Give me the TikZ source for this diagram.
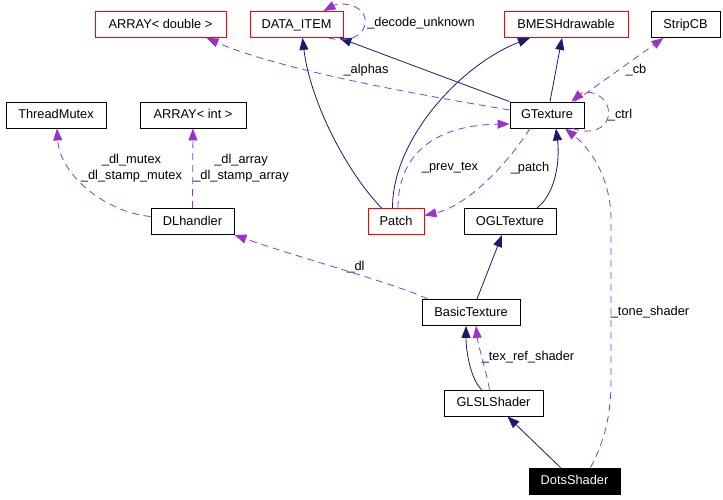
\documentclass[tikz,border=0pt]{standalone}
\usepackage{fontspec}
\setmainfont{Liberation Sans}
\usetikzlibrary{arrows.meta,calc}
\definecolor{navy}{RGB}{25,25,112}
\definecolor{purp}{RGB}{153,50,204}
\begin{document}
\begin{tikzpicture}[x=1pt,y=-1pt,
  txt/.style={font=\fontsize{12.8}{16}\selectfont},
  box/.style={txt,draw=black,line width=0.9pt,minimum height=26pt,inner sep=0pt,text height=9.5pt,text depth=2.5pt},
  redbox/.style={box,draw=red},
  inh/.style={navy,line width=0.8pt,-{Triangle[length=12pt,width=9pt]}},
  dep/.style={purp,line width=0.8pt,dash pattern=on 7pt off 5pt,-{Triangle[length=12pt,width=9pt]}},
  lbl/.style={txt,inner sep=0pt,align=center}]
\useasboundingbox (0,0) rectangle (723,499);
% nodes
\node[redbox,minimum width=131pt] (arrd) at (160.5,24.5) {ARRAY< double >};
\node[redbox,minimum width=93pt] (data) at (296.5,24.5) {DATA\_ITEM};
\node[redbox,minimum width=124pt] (bmesh) at (566,24.5) {BMESHdrawable};
\node[box,minimum width=69pt] (strip) at (685.5,24.5) {StripCB};
\node[box,minimum width=100pt] (tmutex) at (56,115) {ThreadMutex};
\node[box,minimum width=106pt] (arri) at (193,115) {ARRAY< int >};
\node[box,minimum width=74pt] (gtex) at (547,115) {GTexture};
\node[box,minimum width=83pt] (dlh) at (192.5,221.5) {DLhandler};
\node[redbox,minimum width=56pt] (patch) at (396,221.5) {Patch};
\node[box,minimum width=92pt] (ogl) at (510,221.5) {OGLTexture};
\node[box,minimum width=98pt] (basic) at (471,312.5) {BasicTexture};
\node[box,minimum width=99pt] (glsl) at (493.5,403) {GLSLShader};
\node[box,minimum width=91pt,fill=black,text=white] (dots) at (574.5,481) {DotsShader};
% inheritance / solid edges
\draw[inh] (gtex.north west) -- ($(data.south east)+(-4,0)$);
\draw[inh] ($(patch.north west)+(14,0)$) .. controls (345,170) and (310,100) .. ($(data.south)+(6,0)$);
\draw[inh] ($(patch.north west)+(25,0)$) .. controls (392,140) and (460,65) .. ($(bmesh.south)+(-36,0)$);
\draw[inh] ($(gtex.north)+(3,0)$) -- ($(bmesh.south)+(-4,0)$);
\draw[inh] ($(ogl.north)+(27,0)$) .. controls (556,193) and (560,160) .. ($(gtex.south)+(9,0)$);
\draw[inh] ($(basic.north)+(6,0)$) -- ($(ogl.south)+(-8,0)$);
\draw[inh] ($(glsl.north)+(-12,0)$) .. controls (470,378) and (466,350) .. ($(basic.south)+(-5,0)$);
\draw[inh] ($(dots.north)+(-14,0)$) -- ($(glsl.south)+(14,0)$);
% usage / dashed edges
\draw[dep] ($(data.south east)+(-15,0)$) .. controls (355,45) and (368,30) .. (365,18) .. controls (362,4) and (340,2) .. ($(data.north east)+(-20,0)$);
\draw[dep] ($(gtex.west)+(0,-5)$) .. controls (420,95) and (280,70) .. ($(arrd.south)+(46,0)$);
\draw[dep] ($(gtex.north east)+(-10,0)$) -- ($(strip.south)+(-22,0)$);
\draw[dep] ($(gtex.south east)+(-12,0)$) .. controls (600,138) and (612,120) .. (608,108) .. controls (604,92) and (585,90) .. ($(gtex.north east)+(-13,0)$);
\draw[dep] ($(patch.north)+(2,0)$) .. controls (398,150) and (440,125) .. ($(gtex.west)+(0,9)$);
\draw[dep] ($(gtex.south)+(-17,0)$) .. controls (510,160) and (470,205) .. ($(patch.east)+(0,-6)$);
\draw[dep] ($(dots.north)+(16,0)$) .. controls (605,440) and (611,415) .. (611,380) -- (611,220) .. controls (611,180) and (592,150) .. ($(gtex.south)+(18,0)$);
\draw[dep] ($(basic.north west)+(6,0)$) .. controls (400,285) and (300,258) .. (dlh.south east);
\draw[dep] ($(dlh.west)+(0,-5)$) .. controls (105,212) and (60,175) .. ($(tmutex.south)+(1,0)$);
\draw[dep] (dlh.north) -- (arri.south);
\draw[dep] ($(glsl.north)+(-4,0)$) .. controls (486,370) and (478,345) .. ($(basic.south)+(5,0)$);
% labels
\node[lbl] (l1) at (421,23) {\_decode\_unknown};
\node[lbl] (l2) at (366,70) {\_alphas};
\node[lbl] (l3) at (636,70) {\_cb};
\node[lbl] (l4) at (620,115) {\_ctrl};
\node[lbl] (l5) at (450,168) {\_prev\_tex};
\node[lbl] (l6) at (530,168) {\_patch};
\node[lbl] (l7) at (131.5,168) {\_dl\_mutex\\\_dl\_stamp\_mutex};
\node[lbl] (l8) at (241,168) {\_dl\_array\\\_dl\_stamp\_array};
\node[lbl] (l9) at (356,267) {\_dl};
\node[lbl] (l10) at (650,312) {\_tone\_shader};
\node[lbl] (l11) at (528,357) {\_tex\_ref\_shader};
\end{tikzpicture}
\end{document}
